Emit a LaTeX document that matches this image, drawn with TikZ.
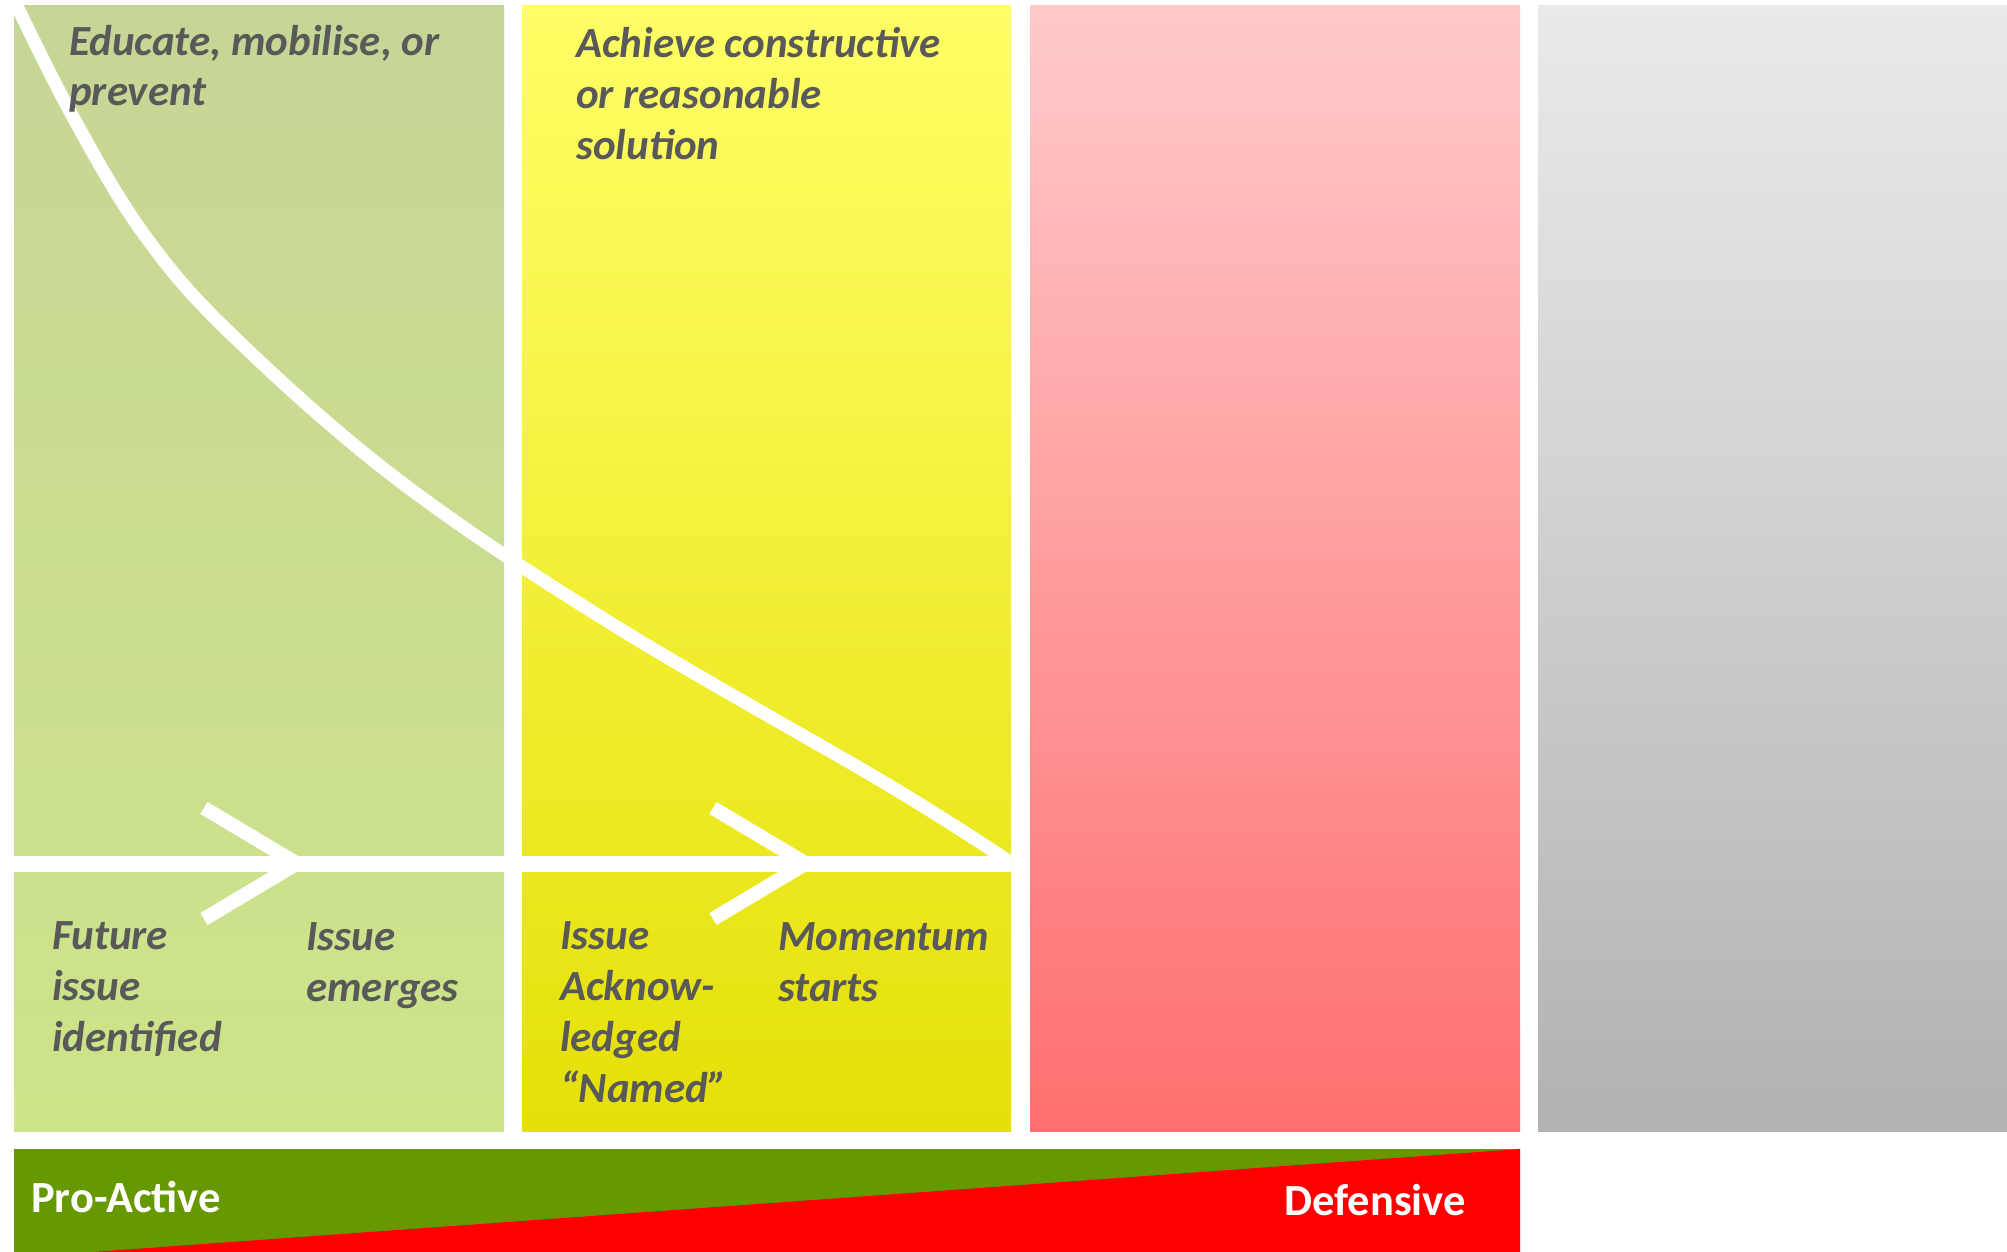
\documentclass[tikz,border=0pt]{standalone}
\usepackage{fontspec}
\setmainfont{Carlito}
\definecolor{txtgray}{RGB}{89,89,89}
\definecolor{greenT}{RGB}{198,214,150}
\definecolor{greenB}{RGB}{205,228,137}
\definecolor{yelT}{RGB}{255,255,102}
\definecolor{yelB}{RGB}{229,224,8}
\definecolor{pinkT}{RGB}{255,202,202}
\definecolor{pinkB}{RGB}{255,111,111}
\definecolor{grayT}{RGB}{234,234,234}
\definecolor{grayB}{RGB}{178,178,178}
\definecolor{barGreen}{RGB}{102,153,0}
\definecolor{barRed}{RGB}{255,0,0}
\tikzset{
  lbl/.style={anchor=base west, inner sep=0pt, text=txtgray,
    font=\fontsize{43}{51}\selectfont\bfseries\itshape},
  barlbl/.style={inner sep=0pt, text=white,
    font=\fontsize{44.5}{51}\selectfont\bfseries},
  whiteline/.style={draw=white, line cap=butt},
}
\begin{document}
\begin{tikzpicture}[x=1pt,y=-1pt]
\useasboundingbox (0,0) rectangle (2007,1252);
\fill[white] (0,0) rectangle (2007,1252);
% columns
\fill[top color=greenT, bottom color=greenB] (14,6) rectangle (504,1131);
\fill[top color=yelT, bottom color=yelB] (522,6) rectangle (1011,1131);
\fill[top color=pinkT, bottom color=pinkB] (1030,6) rectangle (1520,1131);
\fill[top color=grayT, bottom color=grayB] (1538,6) rectangle (2007,1131);
% horizontal line and chevrons
\coordinate (hl) at (14,863.5);
\coordinate (hr) at (1011,863.5);
\draw[whiteline, line width=16pt] (hl) -- (hr);
\coordinate (c1a) at (204,808);
\coordinate (c1t) at (297,863.5);
\coordinate (c1b) at (204,919);
\draw[whiteline, line width=14pt, miter limit=10] (c1a) -- (c1t) -- (c1b);
\coordinate (c2a) at (713,808);
\coordinate (c2t) at (806,863.5);
\coordinate (c2b) at (713,919);
\draw[whiteline, line width=14pt, miter limit=10] (c2a) -- (c2t) -- (c2b);
% curve
\begin{scope}
\clip (14,6) rectangle (1011,1131);
\draw[whiteline, line width=13pt] plot[smooth, tension=0.6] coordinates
  {(16,4) (73,117) (143,233) (230,333) (397,479)
   (612,624) (890,786) (1016,866)};
\end{scope}
% texts
\node[lbl] (e1) at (69,56) {Educate, mobilise, or};
\node[lbl] (e2) at (69,106) {prevent};
\node[lbl] (a1) at (576,58) {Achieve constructive};
\node[lbl] (a2) at (576,109) {or reasonable};
\node[lbl] (a3) at (576,160) {solution};
\node[lbl] (f1) at (52,949) {Future};
\node[lbl] (f2) at (52,1000) {issue};
\node[lbl] (f3) at (52,1051) {identified};
\node[lbl] (i1) at (306,950) {Issue};
\node[lbl] (i2) at (306,1001) {emerges};
\node[lbl] (k1) at (560,949) {Issue};
\node[lbl] (k2) at (560,1000) {Acknow-};
\node[lbl] (k3) at (560,1051) {ledged};
\node[lbl] (k4) at (560,1102) {“Named”};
\node[lbl] (m1) at (778,950) {Momentum};
\node[lbl] (m2) at (778,1001) {starts};
% bottom bar
\fill[barGreen] (14,1149) rectangle (1520,1252);
\fill[barRed] (1520,1149) -- (1520,1252) -- (92,1252) -- cycle;
\node[barlbl, anchor=base west] (pa) at (31,1212) {Pro-Active};
\node[barlbl, anchor=base east] (df) at (1466,1215) {Defensive};
\end{tikzpicture}
\end{document}
